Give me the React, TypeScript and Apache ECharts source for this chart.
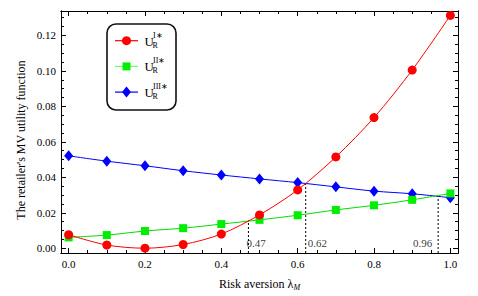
import React, { useEffect, useRef } from "react";
import * as echarts from "echarts";

const lambdaValues = [0, 0.1, 0.2, 0.3, 0.4, 0.5, 0.6, 0.7, 0.8, 0.9, 1.0];
const utilityI = [0.0076, 0.0018, 0.0, 0.0021, 0.008, 0.0188, 0.0329, 0.0515, 0.0737, 0.1005, 0.1313];
const utilityII = [0.0061, 0.0074, 0.0097, 0.0113, 0.0136, 0.016, 0.0186, 0.0216, 0.0242, 0.0273, 0.0309];
const utilityIII = [0.0521, 0.0491, 0.0465, 0.0437, 0.0413, 0.0391, 0.037, 0.0346, 0.0322, 0.0307, 0.0285];

const crossX = [0.471, 0.621, 0.968];
const crossY = [0.0158, 0.0362, 0.0294];
const crossLabels = ["0.47", "0.62", "0.96"];

const xTicks = [0, 0.2, 0.4, 0.6, 0.8, 1.0];
const xMinorTicks = [0.05, 0.1, 0.15, 0.25, 0.3, 0.35, 0.45, 0.5, 0.55, 0.65, 0.7, 0.75, 0.85, 0.9, 0.95];
const yTicks = [0, 0.02, 0.04, 0.06, 0.08, 0.1, 0.12];
const yMinorTicks = [
  0.005, 0.01, 0.015, 0.025, 0.03, 0.035, 0.045, 0.05, 0.055, 0.065, 0.07, 0.075,
  0.085, 0.09, 0.095, 0.105, 0.11, 0.115, 0.125, 0.13,
];

const legendNames = ["I∗", "II∗", "III∗"];
const legendColors = ["#ff0000", "#00ee00", "#0000ff"];

const X_MIN = -0.02;
const X_MAX = 1.02;
const Y_MIN = -0.0027;
const Y_MAX = 0.1338;

const SERIF = "'Liberation Serif', 'Times New Roman', serif";

export default function App() {
  const ref = useRef<HTMLDivElement>(null);

  useEffect(() => {
    if (!ref.current) return;
    const chart = echarts.init(ref.current, null, { renderer: "svg" });

    const pairs = (ys: number[]) => lambdaValues.map((x, i) => [x, ys[i]]);

    const mkX = (pos: "bottom" | "top", vals: number[], len: number, labels: boolean) => ({
      type: "value",
      position: pos,
      min: X_MIN,
      max: X_MAX,
      gridIndex: 0,
      axisLine: { show: true, onZero: false, lineStyle: { color: "#000", width: 1 } },
      axisTick: { show: true, inside: true, length: len, customValues: vals, lineStyle: { color: "#000", width: 1 } },
      axisLabel: {
        show: labels,
        customValues: vals,
        formatter: (v: number) => v.toFixed(1),
        color: "#000",
        fontFamily: SERIF,
        fontSize: 11,
        margin: 5,
      },
      splitLine: { show: false },
    });
    const mkY = (pos: "left" | "right", vals: number[], len: number, labels: boolean) => ({
      type: "value",
      position: pos,
      min: Y_MIN,
      max: Y_MAX,
      gridIndex: 0,
      axisLine: { show: true, onZero: false, lineStyle: { color: "#000", width: 1 } },
      axisTick: { show: true, inside: true, length: len, customValues: vals, lineStyle: { color: "#000", width: 1 } },
      axisLabel: {
        show: labels,
        customValues: vals,
        formatter: (v: number) => v.toFixed(2),
        color: "#000",
        fontFamily: SERIF,
        fontSize: 11,
        margin: 5,
      },
      splitLine: { show: false },
    });

    const xMain: any = mkX("bottom", xTicks, 5, true);
    xMain.name = "Risk aversion λ{m|M}";
    xMain.nameLocation = "middle";
    xMain.nameGap = 24;
    xMain.nameTextStyle = {
      fontFamily: SERIF,
      fontSize: 12,
      color: "#000",
      rich: {
        m: { fontFamily: SERIF, fontSize: 8, fontStyle: "italic", color: "#000", padding: [6, 0, 0, 0] },
      },
    };

    const series: any[] = [
      {
        type: "line",
        data: pairs(utilityI),
        smooth: 0.3,
        symbol: "circle",
        symbolSize: 9,
        itemStyle: { color: "#ff0000" },
        lineStyle: { color: "#ff0000", width: 1 },
        z: 5,
      },
      {
        type: "line",
        data: pairs(utilityII),
        smooth: 0.3,
        symbol: "rect",
        symbolSize: 8,
        itemStyle: { color: "#00ee00" },
        lineStyle: { color: "#00dd00", width: 1 },
        z: 4,
      },
      {
        type: "line",
        data: pairs(utilityIII),
        smooth: 0.3,
        symbol: "diamond",
        symbolSize: [9, 11],
        itemStyle: { color: "#0000ff" },
        lineStyle: { color: "#0000ff", width: 1 },
        z: 3,
      },
    ];

    const labelOffsets = [
      { position: "right", offset: [-2, 0] },
      { position: "right", offset: [2, 0] },
      { position: "left", offset: [-6, 0] },
    ];

    crossX.forEach((cx, i) => {
      series.push({
        type: "line",
        data: [
          [cx, Y_MIN],
          [cx, crossY[i]],
        ],
        symbol: "none",
        lineStyle: { color: "#000", width: 1, type: [2, 2] },
        z: 2,
        silent: true,
      });
      series.push({
        type: "scatter",
        data: [[cx, 0.003]],
        symbolSize: 0,
        silent: true,
        label: {
          show: true,
          position: labelOffsets[i].position,
          distance: 0,
          offset: labelOffsets[i].offset,
          formatter: () => crossLabels[i],
          color: "#000",
          fontFamily: SERIF,
          fontSize: 11,
        },
        z: 6,
      });
    });

    const graphic: any[] = [
      {
        type: "text",
        x: 21,
        y: 140,
        rotation: Math.PI / 2,
        style: {
          text: "The retailer's MV utility function",
          fontFamily: SERIF,
          fontSize: 12,
          fill: "#000",
          align: "center",
          verticalAlign: "middle",
        },
      },
      {
        type: "rect",
        shape: { x: 107, y: 24, width: 69, height: 86, r: 9 },
        style: { fill: "#fff", stroke: "#111", lineWidth: 1.6 },
        z: 100,
      },
    ];

    legendNames.forEach((nm, i) => {
      const cy = 40.7 + i * 25.7;
      const col = legendColors[i];
      graphic.push({
        type: "line",
        shape: { x1: 115, y1: cy, x2: 138, y2: cy },
        style: { stroke: i === 1 ? "#66ff66" : col, lineWidth: 1.2 },
        z: 101,
      });
      if (i === 0) {
        graphic.push({ type: "circle", shape: { cx: 126.5, cy, r: 4.5 }, style: { fill: col }, z: 102 });
      } else if (i === 1) {
        graphic.push({ type: "rect", shape: { x: 122.5, y: cy - 4, width: 8, height: 8 }, style: { fill: col }, z: 102 });
      } else {
        graphic.push({
          type: "polygon",
          shape: { points: [[126.5, cy - 5.5], [131, cy], [126.5, cy + 5.5], [122, cy]] },
          style: { fill: col },
          z: 102,
        });
      }
      graphic.push({
        type: "text",
        x: 144.5,
        y: cy + 0.5,
        style: { text: "U", fontFamily: SERIF, fontSize: 13, fill: "#000", align: "left", verticalAlign: "middle" },
        z: 102,
      });
      graphic.push({
        type: "text",
        x: 153,
        y: cy - 5.5,
        style: { text: nm, fontFamily: SERIF, fontSize: 8, fill: "#000", align: "left", verticalAlign: "middle" },
        z: 102,
      });
      graphic.push({
        type: "text",
        x: 152.5,
        y: cy + 4.5,
        style: { text: "R", fontFamily: SERIF, fontSize: 8, fill: "#000", align: "left", verticalAlign: "middle" },
        z: 102,
      });
    });

    chart.setOption({
      animation: false,
      backgroundColor: "#fff",
      grid: { left: 61, top: 11, right: 20, bottom: 40, containLabel: false },
      xAxis: [
        xMain,
        mkX("bottom", xMinorTicks, 3, false),
        mkX("top", xTicks, 5, false),
        mkX("top", xMinorTicks, 3, false),
      ],
      yAxis: [
        mkY("left", yTicks, 5, true),
        mkY("left", yMinorTicks, 3, false),
        mkY("right", yTicks, 5, false),
        mkY("right", yMinorTicks, 3, false),
      ],
      series,
      graphic,
    });

    return () => chart.dispose();
  }, []);

  return <div ref={ref} style={{ width: 478, height: 296, position: "absolute", left: 0, top: 0 }} />;
}
